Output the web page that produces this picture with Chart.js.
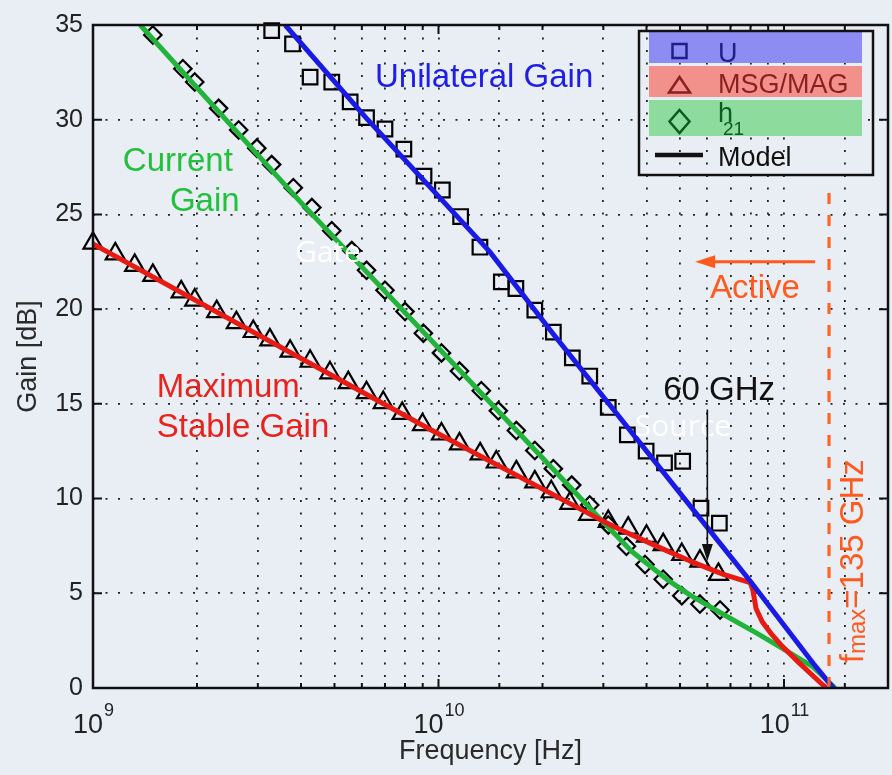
<!DOCTYPE html>
<html>
<head>
<meta charset="utf-8">
<script src="https://cdn.jsdelivr.net/npm/chart.js@4.4.1/dist/chart.umd.min.js"></script>
<style>
  html, body { margin: 0; padding: 0; background: #e9edf4; overflow: hidden; }
  #wrap { width: 892px; height: 775px; }
  canvas { display: block; }
</style>
</head>
<body>
<div id="wrap"><canvas id="gainChart"></canvas></div>
<script>
// measured points, frequency in GHz, gain in dB
const uFreq = [3.29, 3.78, 4.25, 4.91, 5.55, 6.19, 7.0, 7.94, 9.08, 10.26, 11.59, 13.18, 15.2, 16.75, 19.0,
  21.5, 24.4, 27.4, 31.0, 35.2, 39.9, 45.1, 50.9, 57.5, 65.0];
const uGain = [34.7, 34.0, 32.25, 31.99, 30.94, 30.11, 29.51, 28.45, 27.02, 26.29, 24.89, 23.27, 21.44, 21.09, 19.95,
  18.79, 17.43, 16.47, 14.81, 13.36, 12.51, 11.88, 11.97, 9.49, 8.7];

const msgFreq = [1.0, 1.16, 1.32, 1.49, 1.8, 1.97, 2.28, 2.6, 2.91, 3.25, 3.72, 4.25, 4.85, 5.48, 6.19, 6.92, 7.85,
  8.99, 10.2, 11.5, 13.2, 14.7, 16.8, 19.0, 21.2, 24.0, 27.2, 31.0, 35.4, 40.0, 44.7, 50.6, 57.1, 64.6];
const msgGain = [23.48, 22.92, 22.31, 21.78, 20.91, 20.48, 19.87, 19.29, 18.82, 18.38, 17.78, 17.25, 16.64, 16.12,
  15.59, 15.07, 14.5, 13.9, 13.41, 12.89, 12.36, 11.93, 11.41, 10.88, 10.36, 9.75, 9.17, 8.79, 8.44, 8.01, 7.57,
  7.05, 6.7, 6.0];

const h21Freq = [1.49, 1.82, 1.97, 2.31, 2.64, 2.98, 3.29, 3.8, 4.3, 4.91, 5.61, 6.19, 7.0, 8.0, 9.04, 10.2, 11.5,
  13.3, 14.9, 16.8, 19.0, 21.5, 24.3, 27.4, 31.0, 35.0, 39.6, 44.7, 50.6, 57.1, 65.3];
const h21Gain = [34.47, 32.69, 31.99, 30.6, 29.46, 28.5, 27.63, 26.41, 25.36, 24.14, 23.09, 22.05, 21.0, 19.87,
  18.73, 17.69, 16.73, 15.69, 14.63, 13.59, 12.54, 11.58, 10.71, 9.66, 8.61, 7.48, 6.52, 5.74, 4.87, 4.43, 4.12];

// model curves
const uModelFreq = [3.6, 6.19, 14.1, 21.4, 64.6, 79.8, 121.6, 139];
const uModelGain = [35, 30.07, 23.01, 18.73, 7.74, 5.65, 1.29, 0];
const msgModelFreq = [1.0, 9.44, 29.3, 33.5, 44.7, 53.5, 66.8, 79.8, 81.2, 83.0, 86.5, 91.5, 97.7, 111, 129.6, 132.7];
const msgModelGain = [23.44, 13.66, 8.9, 8.37, 7.33, 6.7, 6.0, 5.56, 5.2, 4.2, 3.5, 2.9, 2.3, 1.3, 0.16, 0];
const h21ModelFreq = [1.37, 3.97, 14.1, 29.3, 36.2, 45.7, 53.5, 66.8, 83.6, 102, 121.6, 140.6];
const h21ModelGain = [35, 25.69, 15.07, 8.95, 7.22, 5.75, 4.9, 3.88, 2.88, 1.95, 1.1, 0];

// fmax marker line
const fmaxFreq = [135, 135];
const fmaxGain = [0, 26.3];

const xTickExp = [9, 10, 11];
const yTickStep = 5;

const pts = (f, g) => f.map((v, i) => ({ x: v * 1e9, y: g[i] }));

const FONT = '"Liberation Sans", Arial, sans-serif';

function arrowHead(ctx, tipX, tipY, dx, dy, len, half) {
  const bx = tipX - dx * len, by = tipY - dy * len;
  ctx.beginPath();
  ctx.moveTo(tipX, tipY);
  ctx.lineTo(bx - dy * half, by + dx * half);
  ctx.lineTo(bx + dy * half, by - dx * half);
  ctx.closePath();
  ctx.fill();
}

const decor = {
  id: 'decor',
  afterDraw(chart) {
    const { ctx, chartArea: a, scales: { x, y } } = chart;
    const px = f => x.getPixelForValue(f * 1e9);
    const py = g => y.getPixelForValue(g);
    ctx.save();

    // frame
    ctx.strokeStyle = '#111';
    ctx.lineWidth = 2.5;
    ctx.strokeRect(a.left, a.top, a.right - a.left, a.bottom - a.top);

    // inner ticks
    ctx.lineWidth = 2;
    ctx.beginPath();
    x.ticks.forEach(t => {
      const xx = x.getPixelForValue(t.value);
      const l = Math.log10(t.value);
      const len = Math.abs(l - Math.round(l)) < 1e-9 ? 9 : 5;
      ctx.moveTo(xx, a.bottom); ctx.lineTo(xx, a.bottom - len);
      ctx.moveTo(xx, a.top); ctx.lineTo(xx, a.top + len);
    });
    y.ticks.forEach(t => {
      const yy = y.getPixelForValue(t.value);
      ctx.moveTo(a.left, yy); ctx.lineTo(a.left + 9, yy);
      ctx.moveTo(a.right, yy); ctx.lineTo(a.right - 9, yy);
    });
    ctx.stroke();

    // x tick labels 10^n
    ctx.fillStyle = '#222';
    ctx.textBaseline = 'alphabetic';
    ctx.textAlign = 'left';
    xTickExp.forEach(e => {
      const xx = x.getPixelForValue(Math.pow(10, e));
      ctx.font = '27px ' + FONT;
      const w1 = ctx.measureText('10').width;
      ctx.font = '18px ' + FONT;
      const w2 = ctx.measureText(String(e)).width;
      const x0 = xx - (w1 + w2) / 2;
      ctx.font = '27px ' + FONT;
      ctx.fillText('10', x0, 733);
      ctx.font = '18px ' + FONT;
      ctx.fillText(String(e), x0 + w1 + 1, 716);
    });

    // annotations
    ctx.textBaseline = 'middle';
    const label = (txt, f, g, color, font) => {
      ctx.fillStyle = color;
      ctx.font = font;
      ctx.fillText(txt, px(f), py(g));
    };
    const big = '33px ' + FONT;
    label('Unilateral Gain', 6.55, 32.23, '#1e1ee6', big);
    label('Current', 1.22, 27.78, '#22c03c', big);
    label('Gain', 1.67, 25.64, '#22c03c', big);
    label('Maximum', 1.53, 15.85, '#e8221c', big);
    label('Stable Gain', 1.53, 13.71, '#e8221c', big);
    label('60 GHz', 44.7, 15.7, '#111', big);
    label('Active', 61.1, 21.08, '#ff5a1e', big);
    label('Gate', 3.84, 22.92, '#ffffff', '30px "Open Sans", sans-serif');
    label('Source', 37.0, 13.76, '#ffffff', '30px "Open Sans", sans-serif');

    // 60 GHz arrow
    ctx.strokeStyle = '#111';
    ctx.fillStyle = '#111';
    ctx.lineWidth = 1.6;
    const ax = px(60), ay0 = py(14.7), ay1 = py(6.7);
    ctx.beginPath(); ctx.moveTo(ax, ay0); ctx.lineTo(ax, ay1 - 10); ctx.stroke();
    arrowHead(ctx, ax, ay1, 0, 1, 17, 5.5);

    // Active arrow
    ctx.strokeStyle = '#ff5a1e';
    ctx.fillStyle = '#ff5a1e';
    ctx.lineWidth = 3;
    const by = py(22.5), bx0 = px(123), bx1 = px(55.3);
    ctx.beginPath(); ctx.moveTo(bx0, by); ctx.lineTo(bx1 + 12, by); ctx.stroke();
    arrowHead(ctx, bx1, by, -1, 0, 20, 6.5);

    // fmax rotated label
    ctx.save();
    ctx.translate(px(155) + 13, py(1.31));
    ctx.rotate(-Math.PI / 2);
    ctx.textBaseline = 'alphabetic';
    ctx.fillStyle = '#ff5a1e';
    let cx = 0;
    ctx.font = big;
    ctx.fillText('f', cx, 0); cx += ctx.measureText('f').width;
    ctx.font = '24px ' + FONT;
    ctx.fillText('max', cx, 2); cx += ctx.measureText('max').width;
    ctx.font = big;
    ctx.fillText('=135 GHz', cx, 0);
    ctx.restore();

    // legend
    const L = 639, T = 31, R = 873, B = 175;
    ctx.fillStyle = '#8c8cf2'; ctx.fillRect(649, 32, 213, 31);
    ctx.fillStyle = '#f2918b'; ctx.fillRect(649, 66, 213, 31);
    ctx.fillStyle = '#8ddc9e'; ctx.fillRect(649, 100, 213, 36);
    ctx.strokeStyle = '#111'; ctx.lineWidth = 2.5;
    ctx.strokeRect(L, T, R - L, B - T);

    ctx.lineWidth = 2.5;
    ctx.strokeStyle = '#1f1f8c';
    ctx.strokeRect(672.5, 44, 14, 14);
    ctx.strokeStyle = '#8b1f1f';
    ctx.beginPath(); ctx.moveTo(679.5, 77); ctx.lineTo(690, 92.5); ctx.lineTo(669, 92.5); ctx.closePath(); ctx.stroke();
    ctx.strokeStyle = '#0b5c22';
    ctx.beginPath(); ctx.moveTo(679.5, 110); ctx.lineTo(689.5, 121.5); ctx.lineTo(679.5, 133); ctx.lineTo(669.5, 121.5); ctx.closePath(); ctx.stroke();
    ctx.strokeStyle = '#111'; ctx.lineWidth = 4.5;
    ctx.beginPath(); ctx.moveTo(655, 155); ctx.lineTo(703, 155); ctx.stroke();

    ctx.textBaseline = 'alphabetic';
    ctx.font = '27px ' + FONT;
    ctx.fillStyle = '#1f1f8c'; ctx.fillText('U', 718, 62);
    ctx.fillStyle = '#8b1f1f'; ctx.fillText('MSG/MAG', 718, 93);
    ctx.fillStyle = '#0b5c22'; ctx.fillText('h', 718, 122);
    ctx.font = '19px ' + FONT; ctx.fillText('21', 723, 135);
    ctx.font = '27px ' + FONT;
    ctx.fillStyle = '#111'; ctx.fillText('Model', 718, 166);

    ctx.restore();
  }
};

const markerBase = { showLine: false, borderColor: '#000', backgroundColor: 'rgba(0,0,0,0)', pointBorderWidth: 2.2, clip: false, order: 2 };
const lineBase = { showLine: true, pointRadius: 0, fill: false, tension: 0, order: 1 };

new Chart(document.getElementById('gainChart'), {
  type: 'scatter',
  data: {
    datasets: [
      { ...lineBase, label: 'U model', data: pts(uModelFreq, uModelGain), borderColor: '#1a1ae6', borderWidth: 5 },
      { ...lineBase, label: 'MSG model', data: pts(msgModelFreq, msgModelGain), borderColor: '#e81a14', borderWidth: 5, borderJoinStyle: 'round' },
      { ...lineBase, label: 'h21 model', data: pts(h21ModelFreq, h21ModelGain), borderColor: '#22b33a', borderWidth: 5, borderJoinStyle: 'round' },
      { ...lineBase, label: 'fmax', data: pts(fmaxFreq, fmaxGain), borderColor: '#ff6424', borderWidth: 3.2, borderDash: [11, 11], order: 0 },
      { ...markerBase, label: 'U', data: pts(uFreq, uGain), pointStyle: 'rect', pointRadius: 10.3 },
      { ...markerBase, label: 'MSG/MAG', data: pts(msgFreq, msgGain), pointStyle: 'triangle', pointRadius: 11 },
      { ...markerBase, label: 'h21', data: pts(h21Freq, h21Gain), pointStyle: 'rectRot', pointRadius: 8.7 }
    ]
  },
  options: {
    responsive: true,
    maintainAspectRatio: false,
    animation: false,
    events: [],
    layout: { autoPadding: false, padding: { left: 0, right: 4, top: 19, bottom: 0 } },
    plugins: { legend: { display: false }, tooltip: { enabled: false } },
    scales: {
      x: {
        type: 'logarithmic',
        min: 1e9,
        max: 2e11,
        afterFit: s => { s.height = 87; },
        ticks: { display: false, autoSkip: false },
        grid: { color: '#222', lineWidth: 1.8, drawTicks: false },
        border: { display: false, dash: [2, 10.5] },
        title: { display: true, text: 'Frequency [Hz]', color: '#2a2a2a', font: { family: FONT, size: 27 }, padding: { top: 0, bottom: 7 } }
      },
      y: {
        min: 0,
        max: 35,
        afterFit: s => { s.width = 93; },
        ticks: { stepSize: yTickStep, color: '#222', font: { family: FONT, size: 25 }, padding: 10 },
        grid: { color: '#222', lineWidth: 1.8, drawTicks: false },
        border: { display: false, dash: [2, 10.5] },
        title: { display: true, text: 'Gain [dB]', color: '#2a2a2a', font: { family: FONT, size: 27 }, padding: { top: 12, bottom: 0 } }
      }
    }
  },
  plugins: [decor]
});
</script>
</body>
</html>
